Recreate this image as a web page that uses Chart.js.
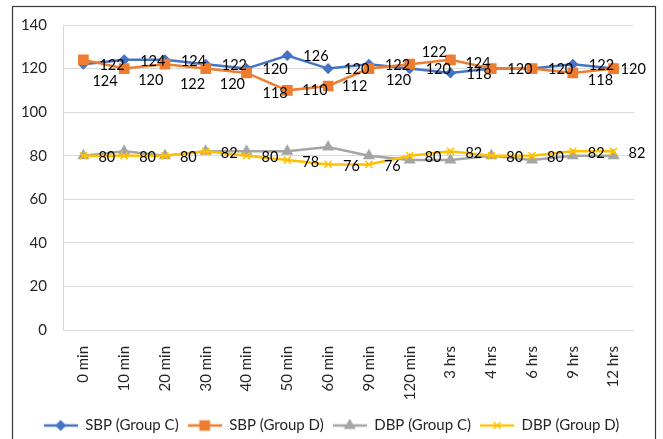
<!DOCTYPE html>
<html>
<head>
<meta charset="utf-8">
<script src="https://cdn.jsdelivr.net/npm/chart.js@4/dist/chart.umd.min.js"></script>
<style>
  html, body { margin: 0; padding: 0; background: #fff; }
</style>
</head>
<body>
<canvas id="bp-chart" width="663" height="439"></canvas>
<script>
// time points on the x axis
const timeLabels = ['0 min', '10 min', '20 min', '30 min', '40 min', '50 min', '60 min',
                    '90 min', '120 min', '3 hrs', '4 hrs', '6 hrs', '9 hrs', '12 hrs'];

// blood pressure readings (mmHg)
const sbpGroupC = [122, 124, 124, 122, 120, 126, 120, 122, 120, 118, 120, 120, 122, 120];
const sbpGroupD = [124, 120, 122, 120, 118, 110, 112, 120, 122, 124, 120, 120, 118, 120];
const dbpGroupC = [80, 82, 80, 82, 82, 82, 84, 80, 78, 78, 80, 78, 80, 80];
const dbpGroupD = [80, 80, 80, 82, 80, 78, 76, 76, 80, 82, 80, 80, 82, 82];

// y axis ticks
const yMin = 0, yMax = 140, yStep = 20;

const FONT = 'Lato';
const TEXT = '#262626';

// where the value labels sit relative to each point: def = [dx, dy], at = per point
// (false = label hidden, it sits under an identical one)
const labelOffsets = [
    {def: [16, 1], at: {13: [7, 1]}},
    // SBP group D labels were nudged around in the original
    {def: [16, 1], at: {0: [9, 21], 1: [14, 12], 2: [15, 20], 3: [14, 16],
                        4: [16, 20], 5: [15, 0], 6: [14, 0], 7: [17, 12],
                        8: [12, -12], 9: [15, 3], 10: false, 11: false,
                        12: [15, 7], 13: false}},
    null,
    {def: [15, 2]}
];

// little line+marker pictures for the legend
function legendSwatch(color, style, radius) {
    const c = document.createElement('canvas');
    c.width = 34; c.height = 14;
    const g = c.getContext('2d');
    g.strokeStyle = color;
    g.fillStyle = color;
    g.lineWidth = 2.5;
    g.beginPath(); g.moveTo(0, 7); g.lineTo(34, 7); g.stroke();
    g.lineWidth = 1.5;
    Chart.helpers.drawPoint(g, {pointStyle: style, radius: radius, borderWidth: 1.5}, 17, 7);
    return c;
}

function series(label, data, color, style, radius, order) {
    return {
        label: label,
        data: data,
        borderColor: color,
        backgroundColor: color,
        borderWidth: 2.5,
        pointStyle: style,
        pointRadius: radius,
        pointHoverRadius: radius,
        pointBackgroundColor: color,
        pointBorderColor: color,
        pointBorderWidth: 1.5,
        tension: 0,
        order: order
    };
}

const datasets = [
    series('SBP (Group C)', sbpGroupC, '#4472C4', 'rectRot', 4.5, 3),
    series('SBP (Group D)', sbpGroupD, '#ED7D31', 'rect', 6.5, 2),
    series('DBP (Group C)', dbpGroupC, '#A5A5A5', 'triangle', 5.5, 1),
    series('DBP (Group D)', dbpGroupD, '#FFC000', 'crossRot', 5, 0)
];

const swatches = datasets.map(d => legendSwatch(d.borderColor, d.pointStyle, d.pointRadius));

// white page + outer frame
const frame = {
    id: 'frame',
    beforeDraw(chart) {
        const ctx = chart.ctx;
        ctx.save();
        ctx.fillStyle = '#fff';
        ctx.fillRect(0, 0, chart.width, chart.height);
        ctx.strokeStyle = '#3a3a3a';
        ctx.lineWidth = 1.2;
        ctx.strokeRect(12.5, 6.5, 643, 500);
        ctx.restore();
    }
};

// value labels next to points
const valueLabels = {
    id: 'valueLabels',
    afterDatasetsDraw(chart) {
        const ctx = chart.ctx;
        ctx.save();
        ctx.font = '14.5px ' + FONT;
        ctx.fillStyle = '#000';
        ctx.textAlign = 'left';
        ctx.textBaseline = 'middle';
        chart.data.datasets.forEach((ds, i) => {
            const offs = labelOffsets[i];
            if (!offs) return;
            chart.getDatasetMeta(i).data.forEach((pt, j) => {
                let o = offs.def;
                if (offs.at && j in offs.at) o = offs.at[j];
                if (!o) return;
                ctx.fillText(ds.data[j], pt.x + o[0], pt.y + o[1]);
            });
        });
        ctx.restore();
    }
};

const ctx = document.getElementById('bp-chart');

const myChart = new Chart(ctx, {
    type: 'line',
    data: {
        labels: timeLabels,
        datasets: datasets
    },
    plugins: [frame, valueLabels],
    options: {
        responsive: false,
        animation: false,
        layout: {
            padding: {top: 22, bottom: -4, left: 0, right: 0}
        },
        scales: {
            x: {
                offset: true,
                grid: {display: false},
                border: {display: false},
                ticks: {
                    autoSkip: false,
                    maxRotation: 90,
                    minRotation: 90,
                    padding: 8,
                    color: TEXT,
                    font: {family: FONT, size: 15}
                },
                afterFit(scale) { scale.height = 79; }
            },
            y: {
                min: yMin,
                max: yMax,
                grid: {color: '#D9D9D9', lineWidth: 1, drawTicks: false},
                border: {display: true, color: '#D9D9D9', width: 1},
                ticks: {
                    stepSize: yStep,
                    padding: 16,
                    color: TEXT,
                    font: {family: FONT, size: 15}
                },
                afterFit(scale) { scale.width = 63; }
            },
            y2: {
                type: 'linear',
                position: 'right',
                grid: {display: false},
                border: {display: false},
                ticks: {display: false},
                afterFit(scale) { scale.width = 29; }
            }
        },
        plugins: {
            tooltip: {enabled: false},
            legend: {
                position: 'bottom',
                labels: {
                    usePointStyle: true,
                    pointStyleWidth: 34,
                    boxHeight: 14,
                    padding: 9,
                    color: TEXT,
                    font: {family: FONT, size: 15},
                    generateLabels(chart) {
                        const items = Chart.defaults.plugins.legend.labels.generateLabels(chart);
                        items.sort((a, b) => a.datasetIndex - b.datasetIndex);
                        items.forEach(it => { it.pointStyle = swatches[it.datasetIndex]; });
                        return items;
                    }
                }
            }
        }
    }
});
</script>
</body>
</html>
